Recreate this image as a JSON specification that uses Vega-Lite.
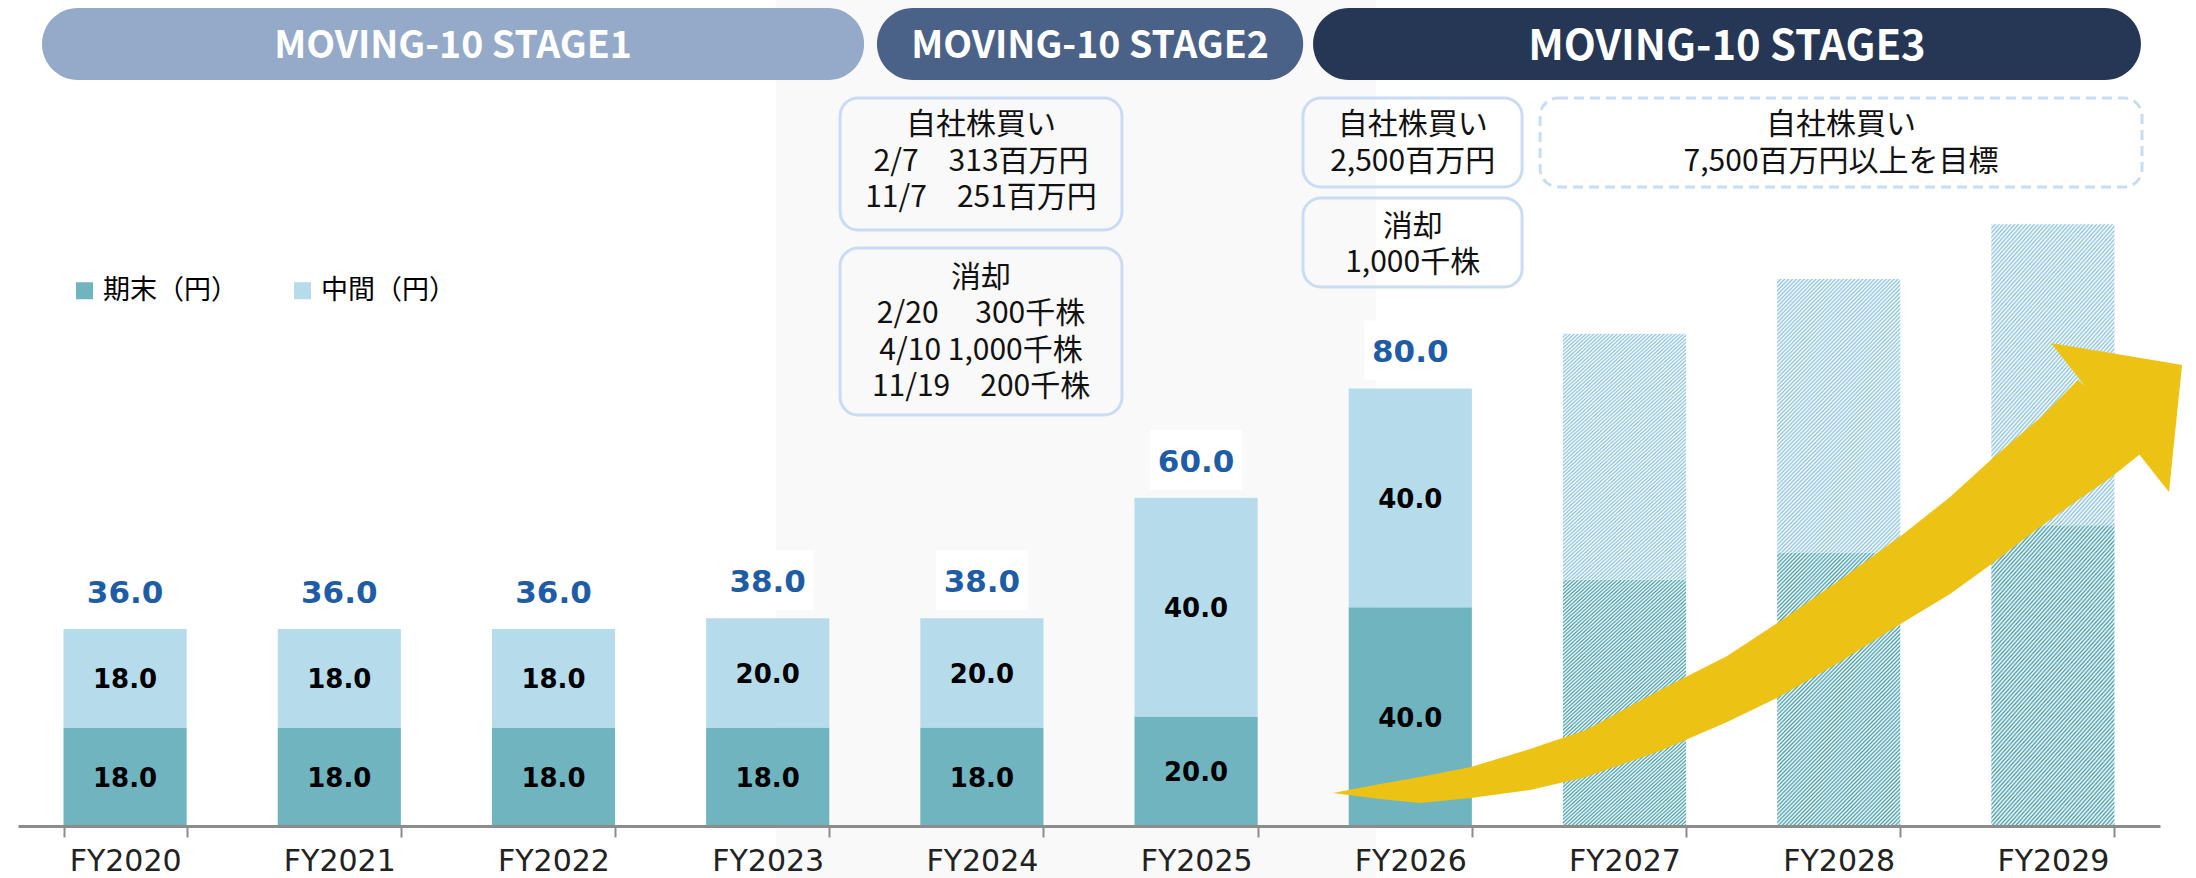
{
  "$schema": "https://vega.github.io/schema/vega-lite/v6.json",
  "width": 2142,
  "height": 826,
  "autosize": {"type": "none"},
  "padding": {"left": 18, "top": 0, "right": 36, "bottom": 52},
  "background": "#ffffff",
  "config": {"view": {"stroke": null}, "font": "Noto Sans CJK JP"},
  "resolve": {"scale": {"x": "independent"}},
  "layer": [
    {
      "data": {"values": [{}]},
      "mark": {"type": "rect", "color": "#f9f9f9"},
      "encoding": {
        "x": {"datum": 3.539, "type": "quantitative", "scale": {"domain": [0, 10], "nice": false, "zero": false}, "axis": null},
        "x2": {"datum": 6.34},
        "y": {"datum": -10, "type": "quantitative", "scale": {"domain": [0, 151], "nice": false, "zero": false}, "axis": null},
        "y2": {"datum": 170}
      }
    },
    {
      "data": {"values": [
        {"fy": "FY2020", "type": "期末（円）", "value": 18, "plan": false},
        {"fy": "FY2020", "type": "中間（円）", "value": 18, "plan": false},
        {"fy": "FY2021", "type": "期末（円）", "value": 18, "plan": false},
        {"fy": "FY2021", "type": "中間（円）", "value": 18, "plan": false},
        {"fy": "FY2022", "type": "期末（円）", "value": 18, "plan": false},
        {"fy": "FY2022", "type": "中間（円）", "value": 18, "plan": false},
        {"fy": "FY2023", "type": "期末（円）", "value": 18, "plan": false},
        {"fy": "FY2023", "type": "中間（円）", "value": 20, "plan": false},
        {"fy": "FY2024", "type": "期末（円）", "value": 18, "plan": false},
        {"fy": "FY2024", "type": "中間（円）", "value": 20, "plan": false},
        {"fy": "FY2025", "type": "期末（円）", "value": 20, "plan": false},
        {"fy": "FY2025", "type": "中間（円）", "value": 40, "plan": false},
        {"fy": "FY2026", "type": "期末（円）", "value": 40, "plan": false},
        {"fy": "FY2026", "type": "中間（円）", "value": 40, "plan": false},
        {"fy": "FY2027", "type": "期末（円）", "value": 45, "plan": true},
        {"fy": "FY2027", "type": "中間（円）", "value": 45, "plan": true},
        {"fy": "FY2028", "type": "期末（円）", "value": 50, "plan": true},
        {"fy": "FY2028", "type": "中間（円）", "value": 50, "plan": true},
        {"fy": "FY2029", "type": "期末（円）", "value": 55, "plan": true},
        {"fy": "FY2029", "type": "中間（円）", "value": 55, "plan": true}
      ]},
      "layer": [
        {
          "transform": [
            {"filter": "!datum.plan"},
            {"stack": "value", "groupby": ["fy"], "sort": [{"field": "type", "order": "descending"}], "as": ["v0", "v1"]}
          ],
          "mark": {"type": "bar"},
          "encoding": {
            "x": {
              "field": "fy", "type": "nominal",
              "scale": {"domain": ["FY2020","FY2021","FY2022","FY2023","FY2024","FY2025","FY2026","FY2027","FY2028","FY2029"], "paddingInner": 0.425, "paddingOuter": 0.2125},
              "axis": {"title": null, "zindex": 1, "labelAngle": 0, "labelFont": "DejaVu Sans", "labelFontSize": 30, "labelColor": "#222222", "labelPadding": 9, "tickBand": "extent", "tickSize": 11, "tickWidth": 2, "tickColor": "#8c8c8c", "domainColor": "#8c8c8c", "domainWidth": 3, "grid": false}
            },
            "y": {"field": "v0", "type": "quantitative", "scale": {"domain": [0, 151], "nice": false, "zero": false}, "axis": null},
            "y2": {"field": "v1"},
            "color": {
              "field": "type", "type": "nominal",
              "scale": {"domain": ["期末（円）", "中間（円）"], "range": ["#6fb4bf", "#b6dbea"]},
              "legend": {"orient": "none", "legendX": 53, "legendY": 277, "direction": "horizontal", "title": null, "symbolType": "square", "symbolSize": 289, "symbolStrokeWidth": 0, "symbolOpacity": 1, "labelFont": "Noto Sans CJK JP", "labelFontSize": 27, "labelColor": "#000000", "labelOffset": 5, "columnPadding": 51, "padding": 0, "labelLimit": 300}
            }
          }
        },
        {
          "transform": [
            {"filter": "datum.plan"},
            {"stack": "value", "groupby": ["fy"], "sort": [{"field": "type", "order": "descending"}], "as": ["v0", "v1"]},
            {"filter": "datum.type === '期末（円）'"}
          ],
          "mark": {"type": "bar", "fill": {"gradient": "linear", "x1": 0, "y1": 0, "x2": 0.55, "y2": 1.2, "stops": [
            {"offset":0,"color":"#4aa0ad"},{"offset":0.005,"color":"#fff"},{"offset":0.01,"color":"#4aa0ad"},{"offset":0.015,"color":"#fff"},
            {"offset":0.02,"color":"#4aa0ad"},{"offset":0.025,"color":"#fff"},{"offset":0.03,"color":"#4aa0ad"},{"offset":0.035,"color":"#fff"},
            {"offset":0.04,"color":"#4aa0ad"},{"offset":0.045,"color":"#fff"},{"offset":0.05,"color":"#4aa0ad"},{"offset":0.055,"color":"#fff"},
            {"offset":0.06,"color":"#4aa0ad"},{"offset":0.065,"color":"#fff"},{"offset":0.07,"color":"#4aa0ad"},{"offset":0.075,"color":"#fff"},
            {"offset":0.08,"color":"#4aa0ad"},{"offset":0.085,"color":"#fff"},{"offset":0.09,"color":"#4aa0ad"},{"offset":0.095,"color":"#fff"},
            {"offset":0.1,"color":"#4aa0ad"},{"offset":0.105,"color":"#fff"},{"offset":0.11,"color":"#4aa0ad"},{"offset":0.115,"color":"#fff"},
            {"offset":0.12,"color":"#4aa0ad"},{"offset":0.125,"color":"#fff"},{"offset":0.13,"color":"#4aa0ad"},{"offset":0.135,"color":"#fff"},
            {"offset":0.14,"color":"#4aa0ad"},{"offset":0.145,"color":"#fff"},{"offset":0.15,"color":"#4aa0ad"},{"offset":0.155,"color":"#fff"},
            {"offset":0.16,"color":"#4aa0ad"},{"offset":0.165,"color":"#fff"},{"offset":0.17,"color":"#4aa0ad"},{"offset":0.175,"color":"#fff"},
            {"offset":0.18,"color":"#4aa0ad"},{"offset":0.185,"color":"#fff"},{"offset":0.19,"color":"#4aa0ad"},{"offset":0.195,"color":"#fff"},
            {"offset":0.2,"color":"#4aa0ad"},{"offset":0.205,"color":"#fff"},{"offset":0.21,"color":"#4aa0ad"},{"offset":0.215,"color":"#fff"},
            {"offset":0.22,"color":"#4aa0ad"},{"offset":0.225,"color":"#fff"},{"offset":0.23,"color":"#4aa0ad"},{"offset":0.235,"color":"#fff"},
            {"offset":0.24,"color":"#4aa0ad"},{"offset":0.245,"color":"#fff"},{"offset":0.25,"color":"#4aa0ad"},{"offset":0.255,"color":"#fff"},
            {"offset":0.26,"color":"#4aa0ad"},{"offset":0.265,"color":"#fff"},{"offset":0.27,"color":"#4aa0ad"},{"offset":0.275,"color":"#fff"},
            {"offset":0.28,"color":"#4aa0ad"},{"offset":0.285,"color":"#fff"},{"offset":0.29,"color":"#4aa0ad"},{"offset":0.295,"color":"#fff"},
            {"offset":0.3,"color":"#4aa0ad"},{"offset":0.305,"color":"#fff"},{"offset":0.31,"color":"#4aa0ad"},{"offset":0.315,"color":"#fff"},
            {"offset":0.32,"color":"#4aa0ad"},{"offset":0.325,"color":"#fff"},{"offset":0.33,"color":"#4aa0ad"},{"offset":0.335,"color":"#fff"},
            {"offset":0.34,"color":"#4aa0ad"},{"offset":0.345,"color":"#fff"},{"offset":0.35,"color":"#4aa0ad"},{"offset":0.355,"color":"#fff"},
            {"offset":0.36,"color":"#4aa0ad"},{"offset":0.365,"color":"#fff"},{"offset":0.37,"color":"#4aa0ad"},{"offset":0.375,"color":"#fff"},
            {"offset":0.38,"color":"#4aa0ad"},{"offset":0.385,"color":"#fff"},{"offset":0.39,"color":"#4aa0ad"},{"offset":0.395,"color":"#fff"},
            {"offset":0.4,"color":"#4aa0ad"},{"offset":0.405,"color":"#fff"},{"offset":0.41,"color":"#4aa0ad"},{"offset":0.415,"color":"#fff"},
            {"offset":0.42,"color":"#4aa0ad"},{"offset":0.425,"color":"#fff"},{"offset":0.43,"color":"#4aa0ad"},{"offset":0.435,"color":"#fff"},
            {"offset":0.44,"color":"#4aa0ad"},{"offset":0.445,"color":"#fff"},{"offset":0.45,"color":"#4aa0ad"},{"offset":0.455,"color":"#fff"},
            {"offset":0.46,"color":"#4aa0ad"},{"offset":0.465,"color":"#fff"},{"offset":0.47,"color":"#4aa0ad"},{"offset":0.475,"color":"#fff"},
            {"offset":0.48,"color":"#4aa0ad"},{"offset":0.485,"color":"#fff"},{"offset":0.49,"color":"#4aa0ad"},{"offset":0.495,"color":"#fff"},
            {"offset":0.5,"color":"#4aa0ad"},{"offset":0.505,"color":"#fff"},{"offset":0.51,"color":"#4aa0ad"},{"offset":0.515,"color":"#fff"},
            {"offset":0.52,"color":"#4aa0ad"},{"offset":0.525,"color":"#fff"},{"offset":0.53,"color":"#4aa0ad"},{"offset":0.535,"color":"#fff"},
            {"offset":0.54,"color":"#4aa0ad"},{"offset":0.545,"color":"#fff"},{"offset":0.55,"color":"#4aa0ad"},{"offset":0.555,"color":"#fff"},
            {"offset":0.56,"color":"#4aa0ad"},{"offset":0.565,"color":"#fff"},{"offset":0.57,"color":"#4aa0ad"},{"offset":0.575,"color":"#fff"},
            {"offset":0.58,"color":"#4aa0ad"},{"offset":0.585,"color":"#fff"},{"offset":0.59,"color":"#4aa0ad"},{"offset":0.595,"color":"#fff"},
            {"offset":0.6,"color":"#4aa0ad"},{"offset":0.605,"color":"#fff"},{"offset":0.61,"color":"#4aa0ad"},{"offset":0.615,"color":"#fff"},
            {"offset":0.62,"color":"#4aa0ad"},{"offset":0.625,"color":"#fff"},{"offset":0.63,"color":"#4aa0ad"},{"offset":0.635,"color":"#fff"},
            {"offset":0.64,"color":"#4aa0ad"},{"offset":0.645,"color":"#fff"},{"offset":0.65,"color":"#4aa0ad"},{"offset":0.655,"color":"#fff"},
            {"offset":0.66,"color":"#4aa0ad"},{"offset":0.665,"color":"#fff"},{"offset":0.67,"color":"#4aa0ad"},{"offset":0.675,"color":"#fff"},
            {"offset":0.68,"color":"#4aa0ad"},{"offset":0.685,"color":"#fff"},{"offset":0.69,"color":"#4aa0ad"},{"offset":0.695,"color":"#fff"},
            {"offset":0.7,"color":"#4aa0ad"},{"offset":0.705,"color":"#fff"},{"offset":0.71,"color":"#4aa0ad"},{"offset":0.715,"color":"#fff"},
            {"offset":0.72,"color":"#4aa0ad"},{"offset":0.725,"color":"#fff"},{"offset":0.73,"color":"#4aa0ad"},{"offset":0.735,"color":"#fff"},
            {"offset":0.74,"color":"#4aa0ad"},{"offset":0.745,"color":"#fff"},{"offset":0.75,"color":"#4aa0ad"},{"offset":0.755,"color":"#fff"},
            {"offset":0.76,"color":"#4aa0ad"},{"offset":0.765,"color":"#fff"},{"offset":0.77,"color":"#4aa0ad"},{"offset":0.775,"color":"#fff"},
            {"offset":0.78,"color":"#4aa0ad"},{"offset":0.785,"color":"#fff"},{"offset":0.79,"color":"#4aa0ad"},{"offset":0.795,"color":"#fff"},
            {"offset":0.8,"color":"#4aa0ad"},{"offset":0.805,"color":"#fff"},{"offset":0.81,"color":"#4aa0ad"},{"offset":0.815,"color":"#fff"},
            {"offset":0.82,"color":"#4aa0ad"},{"offset":0.825,"color":"#fff"},{"offset":0.83,"color":"#4aa0ad"},{"offset":0.835,"color":"#fff"},
            {"offset":0.84,"color":"#4aa0ad"},{"offset":0.845,"color":"#fff"},{"offset":0.85,"color":"#4aa0ad"},{"offset":0.855,"color":"#fff"},
            {"offset":0.86,"color":"#4aa0ad"},{"offset":0.865,"color":"#fff"},{"offset":0.87,"color":"#4aa0ad"},{"offset":0.875,"color":"#fff"},
            {"offset":0.88,"color":"#4aa0ad"},{"offset":0.885,"color":"#fff"},{"offset":0.89,"color":"#4aa0ad"},{"offset":0.895,"color":"#fff"},
            {"offset":0.9,"color":"#4aa0ad"},{"offset":0.905,"color":"#fff"},{"offset":0.91,"color":"#4aa0ad"},{"offset":0.915,"color":"#fff"},
            {"offset":0.92,"color":"#4aa0ad"},{"offset":0.925,"color":"#fff"},{"offset":0.93,"color":"#4aa0ad"},{"offset":0.935,"color":"#fff"},
            {"offset":0.94,"color":"#4aa0ad"},{"offset":0.945,"color":"#fff"},{"offset":0.95,"color":"#4aa0ad"},{"offset":0.955,"color":"#fff"},
            {"offset":0.96,"color":"#4aa0ad"},{"offset":0.965,"color":"#fff"},{"offset":0.97,"color":"#4aa0ad"},{"offset":0.975,"color":"#fff"},
            {"offset":0.98,"color":"#4aa0ad"},{"offset":0.985,"color":"#fff"},{"offset":0.99,"color":"#4aa0ad"},{"offset":0.995,"color":"#fff"},
            {"offset":1,"color":"#4aa0ad"}
          ]}},
          "encoding": {
            "x": {"field": "fy", "type": "nominal", "title": null},
            "y": {"field": "v0", "type": "quantitative", "scale": {"domain": [0, 151], "nice": false, "zero": false}, "axis": null},
            "y2": {"field": "v1"}
          }
        },
        {
          "transform": [
            {"filter": "datum.plan"},
            {"stack": "value", "groupby": ["fy"], "sort": [{"field": "type", "order": "descending"}], "as": ["v0", "v1"]},
            {"filter": "datum.type === '中間（円）'"}
          ],
          "mark": {"type": "bar", "fill": {"gradient": "linear", "x1": 0, "y1": 0, "x2": 0.55, "y2": 1.2, "stops": [
            {"offset":0,"color":"#8fc4dc"},{"offset":0.005,"color":"#fff"},{"offset":0.01,"color":"#8fc4dc"},{"offset":0.015,"color":"#fff"},
            {"offset":0.02,"color":"#8fc4dc"},{"offset":0.025,"color":"#fff"},{"offset":0.03,"color":"#8fc4dc"},{"offset":0.035,"color":"#fff"},
            {"offset":0.04,"color":"#8fc4dc"},{"offset":0.045,"color":"#fff"},{"offset":0.05,"color":"#8fc4dc"},{"offset":0.055,"color":"#fff"},
            {"offset":0.06,"color":"#8fc4dc"},{"offset":0.065,"color":"#fff"},{"offset":0.07,"color":"#8fc4dc"},{"offset":0.075,"color":"#fff"},
            {"offset":0.08,"color":"#8fc4dc"},{"offset":0.085,"color":"#fff"},{"offset":0.09,"color":"#8fc4dc"},{"offset":0.095,"color":"#fff"},
            {"offset":0.1,"color":"#8fc4dc"},{"offset":0.105,"color":"#fff"},{"offset":0.11,"color":"#8fc4dc"},{"offset":0.115,"color":"#fff"},
            {"offset":0.12,"color":"#8fc4dc"},{"offset":0.125,"color":"#fff"},{"offset":0.13,"color":"#8fc4dc"},{"offset":0.135,"color":"#fff"},
            {"offset":0.14,"color":"#8fc4dc"},{"offset":0.145,"color":"#fff"},{"offset":0.15,"color":"#8fc4dc"},{"offset":0.155,"color":"#fff"},
            {"offset":0.16,"color":"#8fc4dc"},{"offset":0.165,"color":"#fff"},{"offset":0.17,"color":"#8fc4dc"},{"offset":0.175,"color":"#fff"},
            {"offset":0.18,"color":"#8fc4dc"},{"offset":0.185,"color":"#fff"},{"offset":0.19,"color":"#8fc4dc"},{"offset":0.195,"color":"#fff"},
            {"offset":0.2,"color":"#8fc4dc"},{"offset":0.205,"color":"#fff"},{"offset":0.21,"color":"#8fc4dc"},{"offset":0.215,"color":"#fff"},
            {"offset":0.22,"color":"#8fc4dc"},{"offset":0.225,"color":"#fff"},{"offset":0.23,"color":"#8fc4dc"},{"offset":0.235,"color":"#fff"},
            {"offset":0.24,"color":"#8fc4dc"},{"offset":0.245,"color":"#fff"},{"offset":0.25,"color":"#8fc4dc"},{"offset":0.255,"color":"#fff"},
            {"offset":0.26,"color":"#8fc4dc"},{"offset":0.265,"color":"#fff"},{"offset":0.27,"color":"#8fc4dc"},{"offset":0.275,"color":"#fff"},
            {"offset":0.28,"color":"#8fc4dc"},{"offset":0.285,"color":"#fff"},{"offset":0.29,"color":"#8fc4dc"},{"offset":0.295,"color":"#fff"},
            {"offset":0.3,"color":"#8fc4dc"},{"offset":0.305,"color":"#fff"},{"offset":0.31,"color":"#8fc4dc"},{"offset":0.315,"color":"#fff"},
            {"offset":0.32,"color":"#8fc4dc"},{"offset":0.325,"color":"#fff"},{"offset":0.33,"color":"#8fc4dc"},{"offset":0.335,"color":"#fff"},
            {"offset":0.34,"color":"#8fc4dc"},{"offset":0.345,"color":"#fff"},{"offset":0.35,"color":"#8fc4dc"},{"offset":0.355,"color":"#fff"},
            {"offset":0.36,"color":"#8fc4dc"},{"offset":0.365,"color":"#fff"},{"offset":0.37,"color":"#8fc4dc"},{"offset":0.375,"color":"#fff"},
            {"offset":0.38,"color":"#8fc4dc"},{"offset":0.385,"color":"#fff"},{"offset":0.39,"color":"#8fc4dc"},{"offset":0.395,"color":"#fff"},
            {"offset":0.4,"color":"#8fc4dc"},{"offset":0.405,"color":"#fff"},{"offset":0.41,"color":"#8fc4dc"},{"offset":0.415,"color":"#fff"},
            {"offset":0.42,"color":"#8fc4dc"},{"offset":0.425,"color":"#fff"},{"offset":0.43,"color":"#8fc4dc"},{"offset":0.435,"color":"#fff"},
            {"offset":0.44,"color":"#8fc4dc"},{"offset":0.445,"color":"#fff"},{"offset":0.45,"color":"#8fc4dc"},{"offset":0.455,"color":"#fff"},
            {"offset":0.46,"color":"#8fc4dc"},{"offset":0.465,"color":"#fff"},{"offset":0.47,"color":"#8fc4dc"},{"offset":0.475,"color":"#fff"},
            {"offset":0.48,"color":"#8fc4dc"},{"offset":0.485,"color":"#fff"},{"offset":0.49,"color":"#8fc4dc"},{"offset":0.495,"color":"#fff"},
            {"offset":0.5,"color":"#8fc4dc"},{"offset":0.505,"color":"#fff"},{"offset":0.51,"color":"#8fc4dc"},{"offset":0.515,"color":"#fff"},
            {"offset":0.52,"color":"#8fc4dc"},{"offset":0.525,"color":"#fff"},{"offset":0.53,"color":"#8fc4dc"},{"offset":0.535,"color":"#fff"},
            {"offset":0.54,"color":"#8fc4dc"},{"offset":0.545,"color":"#fff"},{"offset":0.55,"color":"#8fc4dc"},{"offset":0.555,"color":"#fff"},
            {"offset":0.56,"color":"#8fc4dc"},{"offset":0.565,"color":"#fff"},{"offset":0.57,"color":"#8fc4dc"},{"offset":0.575,"color":"#fff"},
            {"offset":0.58,"color":"#8fc4dc"},{"offset":0.585,"color":"#fff"},{"offset":0.59,"color":"#8fc4dc"},{"offset":0.595,"color":"#fff"},
            {"offset":0.6,"color":"#8fc4dc"},{"offset":0.605,"color":"#fff"},{"offset":0.61,"color":"#8fc4dc"},{"offset":0.615,"color":"#fff"},
            {"offset":0.62,"color":"#8fc4dc"},{"offset":0.625,"color":"#fff"},{"offset":0.63,"color":"#8fc4dc"},{"offset":0.635,"color":"#fff"},
            {"offset":0.64,"color":"#8fc4dc"},{"offset":0.645,"color":"#fff"},{"offset":0.65,"color":"#8fc4dc"},{"offset":0.655,"color":"#fff"},
            {"offset":0.66,"color":"#8fc4dc"},{"offset":0.665,"color":"#fff"},{"offset":0.67,"color":"#8fc4dc"},{"offset":0.675,"color":"#fff"},
            {"offset":0.68,"color":"#8fc4dc"},{"offset":0.685,"color":"#fff"},{"offset":0.69,"color":"#8fc4dc"},{"offset":0.695,"color":"#fff"},
            {"offset":0.7,"color":"#8fc4dc"},{"offset":0.705,"color":"#fff"},{"offset":0.71,"color":"#8fc4dc"},{"offset":0.715,"color":"#fff"},
            {"offset":0.72,"color":"#8fc4dc"},{"offset":0.725,"color":"#fff"},{"offset":0.73,"color":"#8fc4dc"},{"offset":0.735,"color":"#fff"},
            {"offset":0.74,"color":"#8fc4dc"},{"offset":0.745,"color":"#fff"},{"offset":0.75,"color":"#8fc4dc"},{"offset":0.755,"color":"#fff"},
            {"offset":0.76,"color":"#8fc4dc"},{"offset":0.765,"color":"#fff"},{"offset":0.77,"color":"#8fc4dc"},{"offset":0.775,"color":"#fff"},
            {"offset":0.78,"color":"#8fc4dc"},{"offset":0.785,"color":"#fff"},{"offset":0.79,"color":"#8fc4dc"},{"offset":0.795,"color":"#fff"},
            {"offset":0.8,"color":"#8fc4dc"},{"offset":0.805,"color":"#fff"},{"offset":0.81,"color":"#8fc4dc"},{"offset":0.815,"color":"#fff"},
            {"offset":0.82,"color":"#8fc4dc"},{"offset":0.825,"color":"#fff"},{"offset":0.83,"color":"#8fc4dc"},{"offset":0.835,"color":"#fff"},
            {"offset":0.84,"color":"#8fc4dc"},{"offset":0.845,"color":"#fff"},{"offset":0.85,"color":"#8fc4dc"},{"offset":0.855,"color":"#fff"},
            {"offset":0.86,"color":"#8fc4dc"},{"offset":0.865,"color":"#fff"},{"offset":0.87,"color":"#8fc4dc"},{"offset":0.875,"color":"#fff"},
            {"offset":0.88,"color":"#8fc4dc"},{"offset":0.885,"color":"#fff"},{"offset":0.89,"color":"#8fc4dc"},{"offset":0.895,"color":"#fff"},
            {"offset":0.9,"color":"#8fc4dc"},{"offset":0.905,"color":"#fff"},{"offset":0.91,"color":"#8fc4dc"},{"offset":0.915,"color":"#fff"},
            {"offset":0.92,"color":"#8fc4dc"},{"offset":0.925,"color":"#fff"},{"offset":0.93,"color":"#8fc4dc"},{"offset":0.935,"color":"#fff"},
            {"offset":0.94,"color":"#8fc4dc"},{"offset":0.945,"color":"#fff"},{"offset":0.95,"color":"#8fc4dc"},{"offset":0.955,"color":"#fff"},
            {"offset":0.96,"color":"#8fc4dc"},{"offset":0.965,"color":"#fff"},{"offset":0.97,"color":"#8fc4dc"},{"offset":0.975,"color":"#fff"},
            {"offset":0.98,"color":"#8fc4dc"},{"offset":0.985,"color":"#fff"},{"offset":0.99,"color":"#8fc4dc"},{"offset":0.995,"color":"#fff"},
            {"offset":1,"color":"#8fc4dc"}
          ]}},
          "encoding": {
            "x": {"field": "fy", "type": "nominal", "title": null},
            "y": {"field": "v0", "type": "quantitative", "scale": {"domain": [0, 151], "nice": false, "zero": false}, "axis": null},
            "y2": {"field": "v1"}
          }
        },
        {
          "transform": [
            {"filter": "!datum.plan"},
            {"aggregate": [{"op": "sum", "field": "value", "as": "total"}], "groupby": ["fy"]}
          ],
          "mark": {"type": "point", "shape": "M-1,-0.65L1,-0.65L1,0.65L-1,0.65Z", "size": 8464, "filled": true, "fill": "#ffffff", "opacity": 1, "strokeWidth": 0, "yOffset": -38},
          "encoding": {
            "x": {"field": "fy", "type": "nominal", "title": null},
            "y": {"field": "total", "type": "quantitative", "scale": {"domain": [0, 151], "nice": false, "zero": false}, "axis": null}
          }
        },
        {
          "transform": [
            {"filter": "!datum.plan"},
            {"aggregate": [{"op": "sum", "field": "value", "as": "total"}], "groupby": ["fy"]}
          ],
          "mark": {"type": "text", "font": "DejaVu Sans", "fontWeight": "bold", "fontSize": 31, "color": "#1f5ca6", "baseline": "middle", "align": "center", "dy": -35},
          "encoding": {
            "x": {"field": "fy", "type": "nominal", "title": null},
            "y": {"field": "total", "type": "quantitative", "scale": {"domain": [0, 151], "nice": false, "zero": false}, "axis": null},
            "text": {"field": "total", "type": "quantitative", "format": ".1f"}
          }
        },
        {
          "transform": [
            {"filter": "!datum.plan"},
            {"stack": "value", "groupby": ["fy"], "sort": [{"field": "type", "order": "descending"}], "as": ["v0", "v1"]},
            {"calculate": "(datum.v0 + datum.v1) / 2", "as": "mid"}
          ],
          "mark": {"type": "text", "font": "DejaVu Sans", "fontWeight": "bold", "fontSize": 26, "color": "#000000", "baseline": "middle", "align": "center", "dy": 2},
          "encoding": {
            "x": {"field": "fy", "type": "nominal", "title": null},
            "y": {"field": "mid", "type": "quantitative", "scale": {"domain": [0, 151], "nice": false, "zero": false}, "axis": null},
            "text": {"field": "value", "type": "quantitative", "format": ".1f"}
          }
        }
      ]
    },
    {
      "layer": [
        {
          "data": {"values": [
            {"stage": "STAGE1", "label": "MOVING-10 STAGE1", "x0": 0.112, "x1": 3.95, "xc": 2.031},
            {"stage": "STAGE2", "label": "MOVING-10 STAGE2", "x0": 4.01, "x1": 6.0, "xc": 5.005},
            {"stage": "STAGE3", "label": "MOVING-10 STAGE3", "x0": 6.046, "x1": 9.911, "xc": 7.978}
          ]},
          "layer": [
            {
              "mark": {"type": "rect", "cornerRadius": 36},
              "encoding": {
                "x": {"field": "x0", "type": "quantitative", "scale": {"domain": [0, 10], "nice": false, "zero": false}, "axis": null},
                "x2": {"field": "x1"},
                "y": {"datum": 149.54, "type": "quantitative", "scale": {"domain": [0, 151], "nice": false, "zero": false}, "axis": null},
                "y2": {"datum": 136.38},
                "fill": {"condition": [{"test": "datum.stage === 'STAGE1'", "value": "#94aac8"}, {"test": "datum.stage === 'STAGE2'", "value": "#4b6288"}], "value": "#263655"}
              }
            },
            {
              "transform": [{"filter": "datum.stage !== 'STAGE3'"}],
              "mark": {"type": "text", "font": "Noto Sans CJK JP", "fontWeight": "bold", "fontSize": 37.5, "color": "#ffffff", "baseline": "middle", "align": "center"},
              "encoding": {
                "x": {"field": "xc", "type": "quantitative", "scale": {"domain": [0, 10], "nice": false, "zero": false}, "axis": null},
                "y": {"datum": 142.35, "type": "quantitative", "scale": {"domain": [0, 151], "nice": false, "zero": false}, "axis": null},
                "text": {"field": "label"}
              }
            },
            {
              "transform": [{"filter": "datum.stage === 'STAGE3'"}],
              "mark": {"type": "text", "font": "Noto Sans CJK JP", "fontWeight": "bold", "fontSize": 41.7, "color": "#ffffff", "baseline": "middle", "align": "center"},
              "encoding": {
                "x": {"field": "xc", "type": "quantitative", "scale": {"domain": [0, 10], "nice": false, "zero": false}, "axis": null},
                "y": {"datum": 142.35, "type": "quantitative", "scale": {"domain": [0, 151], "nice": false, "zero": false}, "axis": null},
                "text": {"field": "label"}
              }
            }
          ]
        },
        {
          "data": {"values": [
            {"id": "A", "x0": 3.838, "x1": 5.154, "y0": 133.09, "y1": 108.96, "xc": 4.496, "yc": 128.06, "text": "自社株買い\n2/7　313百万円\n11/7　251百万円"},
            {"id": "B", "x0": 3.838, "x1": 5.154, "y0": 105.67, "y1": 75.14, "xc": 4.496, "yc": 100.18, "text": "消却\n2/20　 300千株\n4/10  1,000千株\n11/19　200千株"},
            {"id": "C", "x0": 5.999, "x1": 7.022, "y0": 133.09, "y1": 116.82, "xc": 6.511, "yc": 128.06, "text": "自社株買い\n2,500百万円"},
            {"id": "D", "x0": 5.999, "x1": 7.022, "y0": 114.81, "y1": 98.54, "xc": 6.511, "yc": 109.51, "text": "消却\n1,000千株"},
            {"id": "E", "x0": 7.106, "x1": 9.916, "y0": 133.09, "y1": 116.82, "xc": 8.511, "yc": 128.06, "text": "自社株買い\n7,500百万円以上を目標"}
          ]},
          "layer": [
            {
              "transform": [{"filter": "datum.id !== 'E'"}],
              "mark": {"type": "rect", "cornerRadius": 18, "fill": "#ffffff", "fillOpacity": 0, "stroke": "#c9dcf4", "strokeWidth": 3},
              "encoding": {
                "x": {"field": "x0", "type": "quantitative", "scale": {"domain": [0, 10], "nice": false, "zero": false}, "axis": null},
                "x2": {"field": "x1"},
                "y": {"field": "y0", "type": "quantitative", "scale": {"domain": [0, 151], "nice": false, "zero": false}, "axis": null},
                "y2": {"field": "y1"}
              }
            },
            {
              "transform": [{"filter": "datum.id === 'E'"}],
              "mark": {"type": "rect", "cornerRadius": 18, "fill": "#ffffff", "fillOpacity": 0, "stroke": "#c9dcf4", "strokeWidth": 3, "strokeDash": [10, 6]},
              "encoding": {
                "x": {"field": "x0", "type": "quantitative", "scale": {"domain": [0, 10], "nice": false, "zero": false}, "axis": null},
                "x2": {"field": "x1"},
                "y": {"field": "y0", "type": "quantitative", "scale": {"domain": [0, 151], "nice": false, "zero": false}, "axis": null},
                "y2": {"field": "y1"}
              }
            },
            {
              "mark": {"type": "text", "font": "Noto Sans CJK JP", "fontSize": 30, "lineHeight": 36.5, "lineBreak": "\n", "color": "#111111", "align": "center", "baseline": "middle"},
              "encoding": {
                "x": {"field": "xc", "type": "quantitative", "scale": {"domain": [0, 10], "nice": false, "zero": false}, "axis": null},
                "y": {"field": "yc", "type": "quantitative", "scale": {"domain": [0, 151], "nice": false, "zero": false}, "axis": null},
                "text": {"field": "text"}
              }
            }
          ]
        },
        {
          "data": {"values": [
            {"part": "shaft", "xq": 6.139, "u": 6.03, "l": 6.03},
            {"part": "shaft", "xq": 6.359, "u": 7.68, "l": 4.94},
            {"part": "shaft", "xq": 6.545, "u": 8.96, "l": 4.2},
            {"part": "shaft", "xq": 6.783, "u": 10.79, "l": 5.12},
            {"part": "shaft", "xq": 7.059, "u": 14.08, "l": 6.58},
            {"part": "shaft", "xq": 7.32, "u": 17.55, "l": 8.96},
            {"part": "shaft", "xq": 7.666, "u": 24.86, "l": 13.71},
            {"part": "shaft", "xq": 7.979, "u": 31.08, "l": 19.01},
            {"part": "shaft", "xq": 8.221, "u": 37.29, "l": 23.58},
            {"part": "shaft", "xq": 8.506, "u": 44.97, "l": 29.98},
            {"part": "shaft", "xq": 8.796, "u": 53.2, "l": 37.11},
            {"part": "shaft", "xq": 9.02, "u": 60.15, "l": 42.41},
            {"part": "shaft", "xq": 9.22, "u": 67.28, "l": 48.08},
            {"part": "shaft", "xq": 9.44, "u": 74.59, "l": 54.66},
            {"part": "shaft", "xq": 9.617, "u": 81.54, "l": 59.6},
            {"part": "shaft", "xq": 9.767, "u": 76.51, "l": 63.62},
            {"part": "shaft", "xq": 9.902, "u": 70.57, "l": 67.82},
            {"part": "shaft", "xq": 9.953, "u": 69.47, "l": 69.47},
            {"part": "head", "xq": 9.491, "u": 88.3, "l": 88.3},
            {"part": "head", "xq": 10.042, "u": 84.68, "l": 61.06},
            {"part": "head", "xq": 10.103, "u": 84.28, "l": 84.28}
          ]},
          "mark": {"type": "area", "color": "#ecc315", "interpolate": "linear", "opacity": 1},
          "encoding": {
            "x": {"field": "xq", "type": "quantitative", "scale": {"domain": [0, 10], "nice": false, "zero": false}, "axis": null},
            "y": {"field": "u", "type": "quantitative", "scale": {"domain": [0, 151], "nice": false, "zero": false}, "axis": null},
            "y2": {"field": "l"},
            "detail": {"field": "part"}
          }
        }
      ]
    }
  ]
}
